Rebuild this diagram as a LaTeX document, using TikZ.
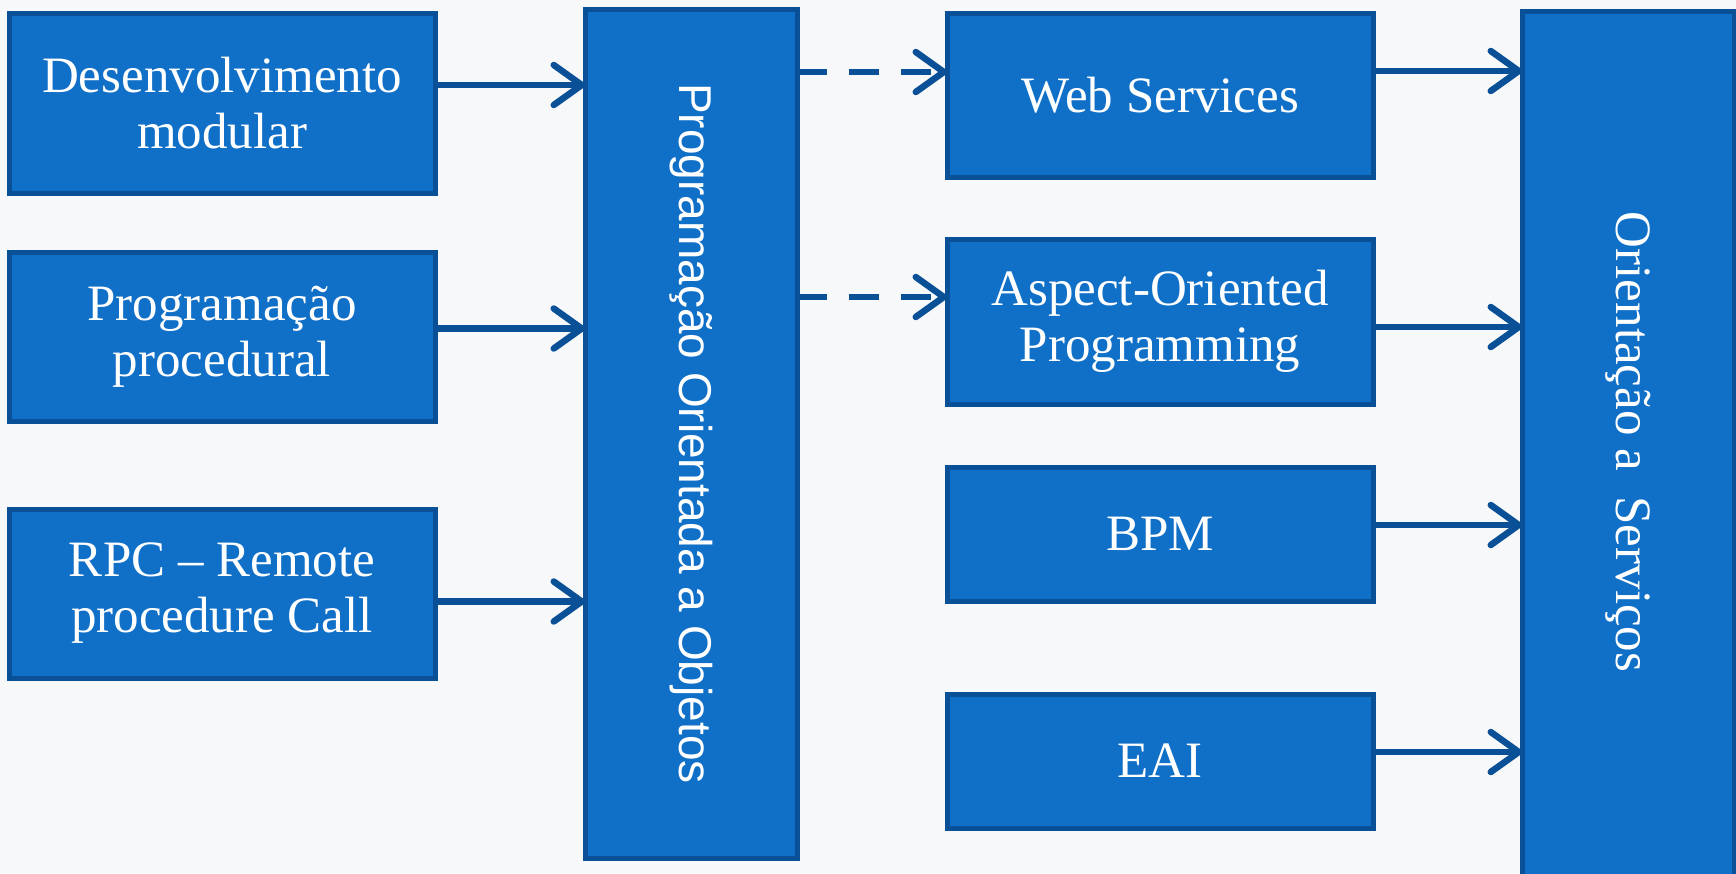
\documentclass[tikz,border=0pt]{standalone}
\usepackage{fontspec}
\setmainfont{Liberation Serif}
\newfontfamily\poofont{Liberation Sans}
\usetikzlibrary{arrows.meta}
\definecolor{boxfill}{RGB}{16,112,200}
\definecolor{boxline}{RGB}{10,80,150}
\definecolor{bgc}{RGB}{247,248,250}
\begin{document}
\begin{tikzpicture}[x=1pt,y=-1pt,
  box/.style={draw=boxline, fill=boxfill, line width=5pt, text=white, align=center,
    inner sep=0pt, outer sep=0pt, anchor=north west,
    font=\fontsize{51}{56}\selectfont},
  arr/.style={draw=boxline, line width=6.5pt,
    -{Straight Barb[length=28pt,width=40pt,line width=6.5pt,round]}},
  darr/.style={arr, dash pattern=on 30pt off 22pt}]
\fill[bgc] (0,0) rectangle (1736,873);
\useasboundingbox (0,0) rectangle (1736,873);
\clip (0,0) rectangle (1736,873);
% left boxes
\node[box, minimum width=426pt, minimum height=180pt] (b1) at (9,13) {Desenvolvimento\\modular};
\node[box, minimum width=426pt, minimum height=169pt] (b2) at (9,252) {Programação\\procedural};
\node[box, minimum width=426pt, minimum height=169pt] (b3) at (9,509) {RPC – Remote\\procedure Call};
% POO
\node[box, minimum width=212pt, minimum height=849pt] (poo) at (585,9) {};
\node[text=white, rotate=-90, font=\poofont\fontsize{46}{52}\selectfont] (pootxt) at (poo.center) {Programação Orientada a Objetos};
% right boxes
\node[box, minimum width=426pt, minimum height=164pt] (ws) at (947,13) {Web Services};
\node[box, minimum width=426pt, minimum height=165pt] (aop) at (947,239) {Aspect-Oriented\\Programming};
\node[box, minimum width=426pt, minimum height=134pt] (bpm) at (947,467) {BPM};
\node[box, minimum width=426pt, minimum height=134pt] (eai) at (947,694) {EAI};
% OaS
\node[box, minimum width=212pt, minimum height=880pt] (oas) at (1522,11) {};
\node[text=white, rotate=-90, font=\fontsize{51}{56}\selectfont] (oastxt) at (oas.north |- 0,442) {Orientação a \ Serviços};
% arrows left -> POO
\draw[arr] ([yshift=18pt]b1.east) -- ([yshift=18pt]b1.east -| poo.west);
\draw[arr] ([yshift=8pt]b2.east) -- ([yshift=8pt]b2.east -| poo.west);
\draw[arr] ([yshift=-8pt]b3.east) -- ([yshift=-8pt]b3.east -| poo.west);
% dashed POO -> right
\draw[darr] ([yshift=23pt]ws.west -| poo.east) -- ([yshift=23pt]ws.west);
\draw[darr] ([yshift=24.5pt]aop.west -| poo.east) -- ([yshift=24.5pt]aop.west);
% right -> OaS
\draw[arr] ([yshift=24pt]ws.east) -- ([yshift=24pt]ws.east -| oas.west);
\draw[arr] ([yshift=-5.5pt]aop.east) -- ([yshift=-5.5pt]aop.east -| oas.west);
\draw[arr] ([yshift=9pt]bpm.east) -- ([yshift=9pt]bpm.east -| oas.west);
\draw[arr] ([yshift=9pt]eai.east) -- ([yshift=9pt]eai.east -| oas.west);
\end{tikzpicture}
\end{document}
